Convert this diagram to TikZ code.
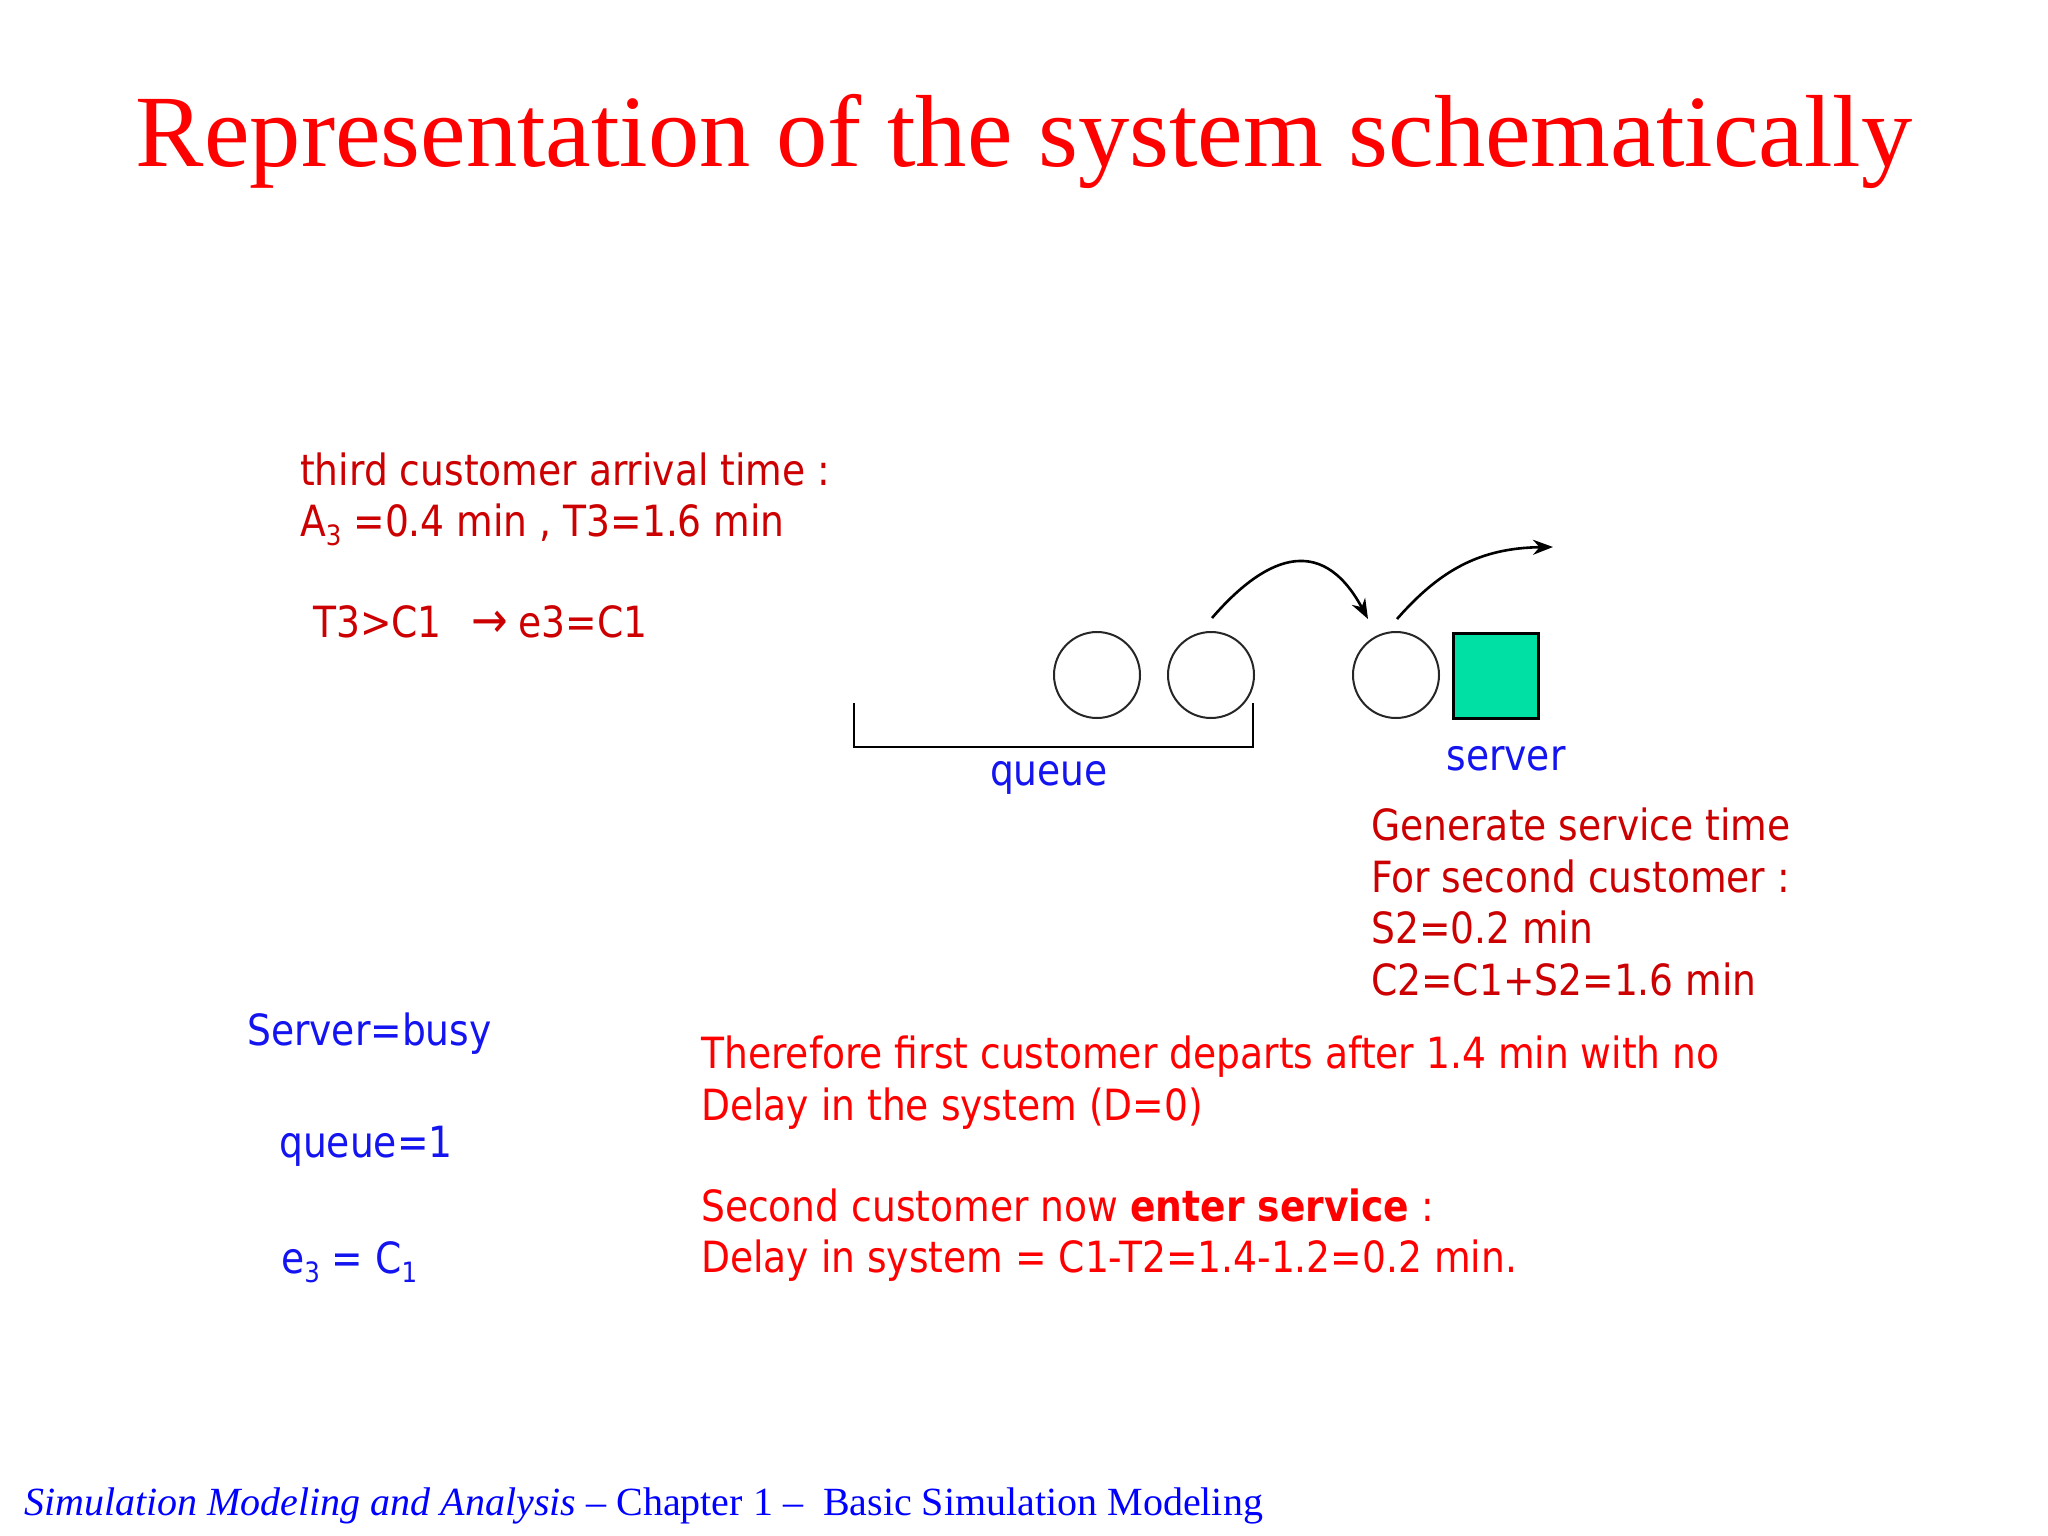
\documentclass[tikz,border=0pt]{standalone}
\usepackage{fontspec}
\setmainfont{Liberation Serif}
\newfontfamily\tah[FakeStretch=0.875]{DejaVu Sans}
\usetikzlibrary{arrows.meta}
\definecolor{dred}{RGB}{204,0,0}
\definecolor{bred}{RGB}{255,0,0}
\definecolor{tblue}{RGB}{20,20,240}
\definecolor{srvgreen}{RGB}{0,224,164}
\newcommand\subs[1]{\raisebox{-9pt}{\fontsize{28}{28}\selectfont #1}}
\begin{document}
\begin{tikzpicture}[x=1pt,y=-1pt,
  txt/.style={inner sep=0pt,anchor=base west,font=\tah\fontsize{43}{52}\selectfont},
  cust/.style={circle,draw=black!85,line width=2pt,minimum size=86pt,inner sep=0pt},
  srv/.style={rectangle,draw=black,line width=3pt,fill=srvgreen,minimum size=85pt,inner sep=0pt},
  flow/.style={line width=2.6pt,-{Stealth[length=20pt,width=15pt]}}]
\useasboundingbox (0,0) rectangle (2048,1536);
\fill[white] (0,0) rectangle (2048,1536);
% title
\node[inner sep=0pt,anchor=base,text=bred,font=\fontsize{102.5}{110}\selectfont] (title) at (1024,167) {Representation of the system schematically};
% top-left text
\node[txt,text=dred] (t1) at (300,485) {third customer arrival time :};
\node[txt,text=dred] (t2) at (300,536) {A\subs{3} =0.4 min , T3=1.6 min};
\node[txt,text=dred] (t3) at (313,637) {T3>C1 \hspace{18pt}{\fontsize{50}{52}\selectfont →}\hspace{10pt}e3=C1};
% schematic
\node[cust] (c1) at (1097,675) {};
\node[cust] (c2) at (1211,675) {};
\node[cust] (c3) at (1396,675) {};
\node[srv] (server) at (1496,676) {};
\draw[line width=2.5pt] (854,703) -- (854,747) -- (1253,747) -- (1253,703);
\node[inner sep=0pt,anchor=base,text=tblue,font=\tah\fontsize{43}{52}\selectfont] (qlab) at (1049,785) {queue};
\node[inner sep=0pt,anchor=base,text=tblue,font=\tah\fontsize{43}{52}\selectfont] (slab) at (1506,770) {server};
\coordinate (a1s) at (1212,618);
\coordinate (a1e) at (1368,619);
\coordinate (a2s) at (1397,619);
\coordinate (a2e) at (1553,547);
\draw[flow] (a1s) .. controls (1262,560) and (1320,530) .. (a1e);
\draw[flow] (a2s) .. controls (1440,570) and (1480,548) .. (a2e);
% service text
\node[txt,text=dred] (g1) at (1371,840) {Generate service time};
\node[txt,text=dred] (g2) at (1371,892) {For second customer :};
\node[txt,text=dred] (g3) at (1371,943) {S2=0.2 min};
\node[txt,text=dred] (g4) at (1371,995) {C2=C1+S2=1.6 min};
% state text
\node[txt,text=tblue] (s1) at (247,1045) {Server=busy};
\node[txt,text=tblue] (s2) at (279,1157) {queue=1};
\node[txt,text=tblue] (s3) at (281,1273) {e\subs{3} = C\subs{1}};
% lower red text
\node[txt,text=bred] (r1) at (701,1068) {Therefore first customer departs after 1.4 min with no};
\node[txt,text=bred] (r2) at (701,1120) {Delay in the system (D=0)};
\node[txt,text=bred] (r3) at (701,1221) {Second customer now \textbf{enter service} :};
\node[txt,text=bred] (r4) at (701,1272) {Delay in system = C1-T2=1.4-1.2=0.2 min.};
% footer
\node[inner sep=0pt,anchor=base west,text=blue,font=\fontsize{40}{46}\selectfont] (foot) at (24,1515) {\textit{Simulation Modeling and Analysis} -- Chapter 1 -- \ Basic Simulation Modeling};
\end{tikzpicture}
\end{document}
